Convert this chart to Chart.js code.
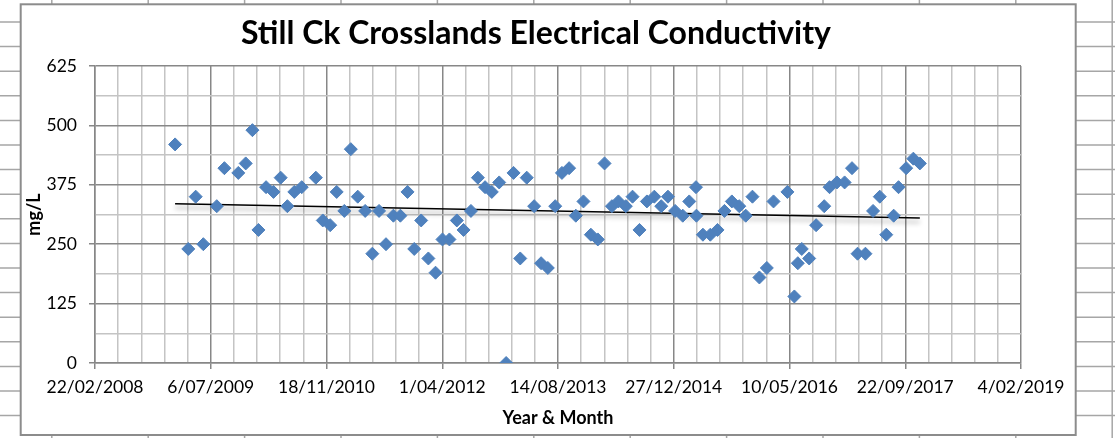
<!DOCTYPE html>
<html>
<head>
<meta charset="utf-8">
<title>Still Ck Crosslands Electrical Conductivity</title>
<script src="https://cdn.jsdelivr.net/npm/chart.js@4.4.1/dist/chart.umd.min.js"></script>
<style>
  html, body { margin: 0; padding: 0; background: #fff; }
  canvas { display: block; }
</style>
</head>
<body>
<canvas id="ecChart" width="1115" height="438"></canvas>
<script>
"use strict";

const chartTitle = 'Still Ck Crosslands Electrical Conductivity';

// sample dates as Excel day numbers (days since 30/12/1899)
const sampleDays = [
  39846, 39903, 39935, 39968, 40026, 40059, 40119, 40151, 40180, 40206,
  40239, 40271, 40302, 40331, 40361, 40393, 40454, 40484, 40516, 40544,
  40577, 40605, 40635, 40667, 40698, 40727, 40757, 40789, 40819, 40850,
  40879, 40909, 40940, 40971, 41001, 41031, 41063, 41092, 41124, 41154,
  41185, 41214, 41246, 41276, 41308, 41337, 41365, 41397, 41427, 41456,
  41488, 41517, 41548, 41577, 41610, 41642, 41672, 41701, 41733, 41761,
  41793, 41822, 41852, 41884, 41916, 41946, 41975, 42006, 42039, 42067,
  42096, 42098, 42126, 42158, 42189, 42219, 42251, 42283, 42311, 42340,
  42370, 42402, 42431, 42491, 42521, 42536, 42553, 42585, 42615, 42650,
  42673, 42705, 42738, 42770, 42794, 42828, 42861, 42890, 42918, 42950,
  42971, 43004, 43035, 43063
];

// mg/L
const conductivity = [
  460, 240, 350, 250, 330, 410, 400, 420, 490, 280,
  370, 360, 390, 330, 360, 370, 390, 300, 290, 360,
  320, 450, 350, 320, 230, 320, 250, 310, 310, 360,
  240, 300, 220, 190, 260, 260, 300, 280, 320, 390,
  370, 360, 380, 0, 400, 220, 390, 330, 210, 200,
  330, 400, 410, 310, 340, 270, 260, 420, 330, 340,
  330, 350, 280, 340, 350, 330, 350, 320, 310, 340,
  370, 310, 270, 270, 280, 320, 340, 330, 310, 350,
  180, 200, 340, 360, 140, 210, 240, 220, 290, 330,
  370, 380, 380, 410, 230, 230, 320, 350, 270, 310,
  370, 410, 430, 420
];

const xTickLabels = ['22/02/2008', '6/07/2009', '18/11/2010', '1/04/2012', '14/08/2013',
  '27/12/2014', '10/05/2016', '22/09/2017', '4/02/2019'];
const yTickLabels = [0, 125, 250, 375, 500, 625];

const xStart = 39500;   // 22/02/2008
const xMajor = 500;
const xMinor = 100;
const yMajor = 125;

// least squares line, like the Excel linear trendline
function linearFit(xs, ys) {
  const n = xs.length;
  let sx = 0, sy = 0, sxx = 0, sxy = 0;
  for (let i = 0; i < n; i++) {
    sx += xs[i]; sy += ys[i];
    sxx += xs[i] * xs[i]; sxy += xs[i] * ys[i];
  }
  const slope = (n * sxy - sx * sy) / (n * sxx - sx * sx);
  const icpt = (sy - slope * sx) / n;
  return x => icpt + slope * x;
}

const points = sampleDays.map((d, i) => ({ x: d, y: conductivity[i] }));
const fit = linearFit(sampleDays, conductivity);
const firstDay = Math.min(...sampleDays);
const lastDay = Math.max(...sampleDays);
const trendPoints = [
  { x: firstDay, y: fit(firstDay) },
  { x: lastDay, y: fit(lastDay) }
];

const isXMajor = v => (v - xStart) % xMajor === 0;
const isYMajor = v => v % yMajor === 0;

// spreadsheet cells behind the chart object, white panel, border and title
const sheetBackdrop = {
  id: 'sheetBackdrop',
  beforeDraw(chart) {
    const ctx = chart.ctx;
    const w = chart.width, h = chart.height;
    ctx.save();
    ctx.fillStyle = '#fff';
    ctx.fillRect(0, 0, w, h);
    ctx.strokeStyle = '#a6a6a6';
    ctx.lineWidth = 1.5;
    ctx.beginPath();
    for (let x = 51.8; x < w; x += 96.4) { ctx.moveTo(x, 0); ctx.lineTo(x, h); }
    for (let y = 22 - 24.6; y < h; y += 24.6) { ctx.moveTo(0, y); ctx.lineTo(w, y); }
    ctx.stroke();

    ctx.fillStyle = '#fff';
    ctx.fillRect(20.7, 4.3, 1055, 430.7);
    ctx.strokeStyle = '#8c8c8c';
    ctx.lineWidth = 2;
    ctx.strokeRect(20.7, 4.3, 1055, 430.7);

    ctx.fillStyle = '#000';
    ctx.font = 'bold 32px Lato';
    ctx.textAlign = 'center';
    ctx.textBaseline = 'alphabetic';
    ctx.fillText(chartTitle, 536, 44);
    ctx.restore();
  }
};

// soft grey shadow under the trendline
const trendShadow = {
  id: 'trendShadow',
  beforeDatasetDraw(chart, args) {
    if (args.index !== 1) return;
    const ctx = chart.ctx;
    ctx.save();
    ctx.shadowColor = 'rgba(0,0,0,0.4)';
    ctx.shadowBlur = 5;
    ctx.shadowOffsetY = 4;
  },
  afterDatasetDraw(chart, args) {
    if (args.index === 1) chart.ctx.restore();
  }
};

const tickFont = { family: 'Lato', size: 17.5 };
const axisTitleFont = { family: 'Lato', size: 18, weight: 'bold' };

const ctx = document.getElementById('ecChart');
const ecChart = new Chart(ctx, {
  type: 'scatter',
  data: {
    datasets: [{
      label: 'Electrical conductivity',
      data: points,
      pointStyle: 'rectRot',
      pointRadius: 6.5,
      pointHoverRadius: 6.5,
      backgroundColor: '#4f81bd',
      borderColor: '#4f81bd',
      borderWidth: 1,
      order: 1
    }, {
      label: 'Linear trend',
      data: trendPoints,
      showLine: true,
      pointRadius: 0,
      borderColor: '#000',
      borderWidth: 1.5,
      fill: false,
      order: 2
    }]
  },
  options: {
    responsive: false,
    animation: false,
    layout: { padding: { left: 21, top: 66, right: 94, bottom: 3 } },
    plugins: {
      legend: { display: false },
      tooltip: { enabled: false },
      title: { display: false }
    },
    scales: {
      x: {
        type: 'linear',
        min: xStart,
        max: xStart + xMajor * (xTickLabels.length - 1),
        afterFit(scale) { scale.height = 72; },
        ticks: {
          stepSize: xMinor,
          maxTicksLimit: 100,
          autoSkip: false,
          maxRotation: 0,
          minRotation: 0,
          padding: 8,
          color: '#000',
          font: tickFont,
          callback: v => isXMajor(v) ? xTickLabels[(v - xStart) / xMajor] : ''
        },
        grid: {
          color: c => isXMajor(c.tick.value) ? '#878787' : '#c4c4c4',
          tickColor: c => isXMajor(c.tick.value) ? '#878787' : 'rgba(0,0,0,0)',
          lineWidth: 1.5,
          tickLength: 6
        },
        border: { color: '#878787', width: 1.5 },
        title: {
          display: true,
          text: 'Year & Month',
          color: '#000',
          font: axisTitleFont,
          padding: { top: 0, bottom: 6 }
        }
      },
      y: {
        min: yTickLabels[0],
        max: yTickLabels[yTickLabels.length - 1],
        afterFit(scale) { scale.width = 74; },
        ticks: {
          stepSize: yMajor / 2,
          autoSkip: false,
          padding: 12,
          color: '#000',
          font: tickFont,
          callback: v => isYMajor(v) ? String(v) : ''
        },
        grid: {
          color: c => isYMajor(c.tick.value) ? '#878787' : '#c4c4c4',
          tickColor: c => isYMajor(c.tick.value) ? '#878787' : 'rgba(0,0,0,0)',
          lineWidth: 1.5,
          tickLength: 6
        },
        border: { color: '#878787', width: 1.5 },
        title: {
          display: true,
          text: 'mg/L',
          color: '#000',
          font: axisTitleFont,
          padding: { top: 2, bottom: 0 }
        }
      }
    }
  },
  plugins: [sheetBackdrop, trendShadow]
});
</script>
</body>
</html>
